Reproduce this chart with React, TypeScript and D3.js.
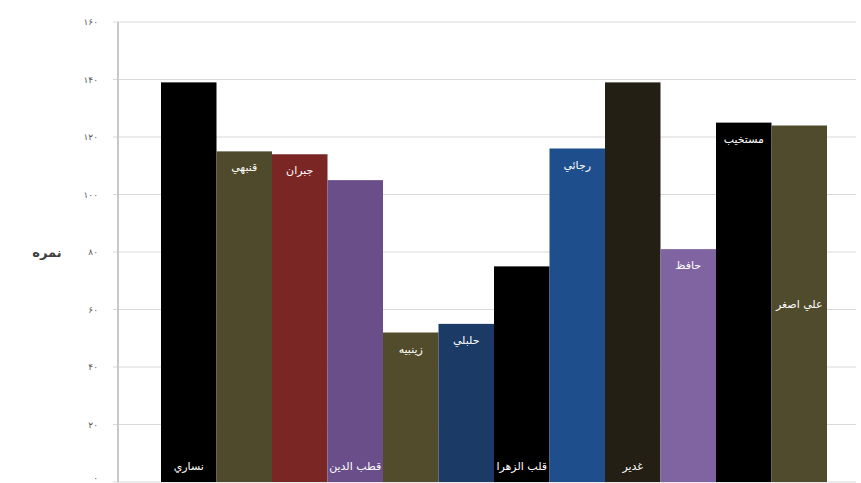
import React from 'react';
import * as d3 from 'd3';

const names = ['نساري', 'قنبهي', 'جبران', 'قطب الدين', 'زينبيه', 'حلبلي', 'قلب الزهرا', 'رجائي', 'غدير', 'حافظ', 'مستخيب', 'علي اصغر'];
const scores = [139, 115, 114, 105, 52, 55, 75, 116, 139, 81, 125, 124];
const colors = ['#000000', '#4f4a2b', '#7a2624', '#6a4e8a', '#524c2c', '#1b3a66', '#000000', '#1f4e8c', '#231f14', '#8064a2', '#000000', '#4f4b2c'];
const labelPlacement = ['base', 'end', 'end', 'base', 'end', 'end', 'base', 'end', 'base', 'end', 'end', 'center'];
const tickValues = [0, 20, 40, 60, 80, 100, 120, 140, 160];
const yTitle = 'نمره';

const W = 861;
const H = 483;
const plotLeft = 118;
const plotRight = 856;
const plotTop = 22;
const plotBottom = 482;

const toPersian = (n: number) => String(n).replace(/\d/g, (d) => '۰۱۲۳۴۵۶۷۸۹'[+d]);

export default function App() {
  const x = d3.scaleBand<string>().domain(names).range([161, 827]).padding(0);
  const y = d3.scaleLinear().domain([0, 160]).range([plotBottom, plotTop]);
  const font = "'DejaVu Sans', sans-serif";

  return (
    <svg width={W} height={H} style={{ position: 'fixed', left: 0, top: 0, background: '#fff' }}>
      <rect x={0} y={0} width={W} height={H} fill="#fff" />
      {tickValues.map((t) => (
        <g key={t}>
          <line x1={plotLeft - 5} x2={plotRight} y1={y(t)} y2={y(t)} stroke="#d9d9d9" strokeWidth={1.2} />
          <text x={98} y={Math.min(y(t), H - 5)} dy="0.35em" textAnchor="end" fontSize={9} fill="#595959" fontFamily={font} letterSpacing={2}>
            {toPersian(t)}
          </text>
        </g>
      ))}
      <line x1={plotLeft} x2={plotLeft} y1={plotTop} y2={plotBottom} stroke="#c8c8c8" strokeWidth={2} />
      {names.map((n, i) => (
        <rect key={n} x={x(n)} y={y(scores[i])} width={x.bandwidth()} height={y(0) - y(scores[i])} fill={colors[i]} />
      ))}
      {names.map((n, i) => {
        const cx = (x(n) as number) + x.bandwidth() / 2;
        let ly: number;
        if (labelPlacement[i] === 'end') ly = y(scores[i]) + 20;
        else if (labelPlacement[i] === 'base') ly = y(0) - 12;
        else ly = (y(scores[i]) + y(0)) / 2 + 4;
        return (
          <text key={n} x={cx} y={ly} textAnchor="middle" fontSize={11} fill="#ffffff" fontFamily={font}>
            {n}
          </text>
        );
      })}
      <text x={47} y={y(80)} dy="0.35em" textAnchor="middle" fontSize={13} fontWeight="bold" fill="#404040" fontFamily={font}>
        {yTitle}
      </text>
    </svg>
  );
}
